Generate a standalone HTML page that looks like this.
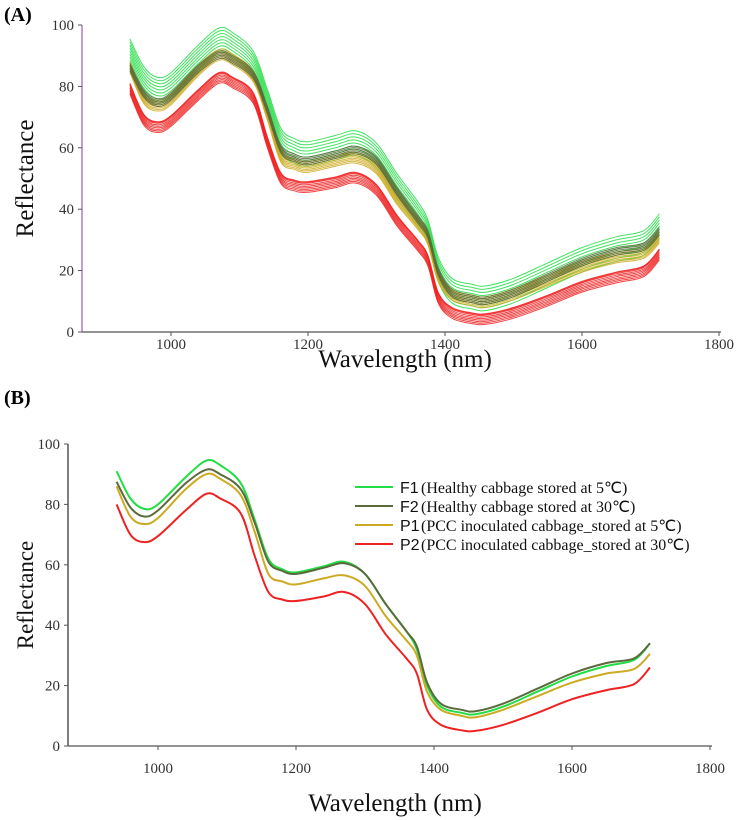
<!DOCTYPE html>
<html><head><meta charset="utf-8">
<style>
body{margin:0;background:#fff;}
svg{display:block;font-family:"Liberation Serif",serif;}
</style></head>
<body>
<svg id="chart" width="738" height="820" viewBox="0 0 738 820">
<text x="4" y="21" font-size="20" font-weight="bold">(A)</text>
<text x="4" y="404" font-size="20" font-weight="bold">(B)</text>
<g id="pa"></g>
<g id="pb"></g>
</svg>
<script>
const wavelengths=[940,960,980,1000,1040,1070,1090,1120,1140,1160,1180,1200,1240,1270,1300,1330,1360,1375,1390,1410,1440,1460,1500,1550,1600,1650,1690,1713];
const f1Values=[91,82,78.5,80,89,94.5,93,87,75,62,58.5,57.5,59.5,61,57,47,38,32,20,13,11,10.5,13,18,23,26.5,28.5,34];
const f2Values=[87.5,79,76,78,87,91.5,90,85,74,61,58,57,59,60.5,57,47,38,33,21,14,12,11.5,14,19,24,27.5,29,34];
const p1Values=[86,76,73.5,75.5,85,90,88.5,83,71,57,54.5,53.5,55.5,56.5,53,43,35,30,18,12,10,9.5,12,16.5,21,24,25.5,30.5];
const p2Values=[80,70,67.5,69.5,78,83.5,82,77,63,51,48.5,48,49.5,51,47,37,29,24,12,7,5.2,5,7,11,15.5,18.5,20.5,26];
const seriesNames=["F1","F2","P1","P2"];
const seriesLabels=["(Healthy cabbage stored at 5\u2103)","(Healthy cabbage stored at 30\u2103)","(PCC inoculated cabbage_stored at 5\u2103)","(PCC inoculated cabbage_stored at 30\u2103)"];
const seriesColors=["#22dd44","#5a6a3a","#ccaa22","#ee2222"];
const f1Offsets=[4.5,3.5,2.5,1.5,0.5,-0.5,-1.5,-2.5,-3.5];
const f2Offsets=[-2.5,-2,-1.5,-1,-0.5,0];
const p1Offsets=[1.5,1,0.5,0,-0.5,-1,-1.5,2];
const p2Offsets=[1,0.5,0,-0.5,-1,-1.5,-2,-2.5,0.8];
const xTicks=[1000,1200,1400,1600,1800];
const yTicks=[0,20,40,60,80,100];
const NS="http://www.w3.org/2000/svg";
function mk(tag,attrs,parent){const e=document.createElementNS(NS,tag);for(const k in attrs)e.setAttribute(k,attrs[k]);parent.appendChild(e);return e;}
function pathD(xs,ys,sx,sy){
 const p=xs.map((x,i)=>[sx(x),sy(ys[i])]);
 let d="M"+p[0][0].toFixed(1)+","+p[0][1].toFixed(1);
 for(let i=0;i<p.length-1;i++){
  const p0=p[i-1]||p[i],p1=p[i],p2=p[i+1],p3=p[i+2]||p2;
  const c1=[p1[0]+(p2[0]-p0[0])/6,p1[1]+(p2[1]-p0[1])/6];
  const c2=[p2[0]-(p3[0]-p1[0])/6,p2[1]-(p3[1]-p1[1])/6];
  d+="C"+c1.map(v=>v.toFixed(1))+" "+c2.map(v=>v.toFixed(1))+" "+p2[0].toFixed(1)+","+p2[1].toFixed(1);
 }
 return d;
}
function axes(g,x0,x1000,x1800,y0,y100,yAxisColor,tickOff,titleY,xTitleX,ytSize){
 const sx=w=>x1000+(w-1000)*(x1800-x1000)/800;
 const sy=v=>y0-(v)*(y0-y100)/100;
 const ya=mk("line",{x1:x0,y1:y100,x2:x0,y2:y0,stroke:yAxisColor,"stroke-width":1.5},g);
 
 
 const xa=mk("line",{x1:x0,y1:y0,x2:x1800+2,y2:y0,stroke:"#555","stroke-width":1.2},g);
 
 
 yTicks.forEach(v=>{
  mk("line",{x1:x0-4,y1:sy(v),x2:x0,y2:sy(v),stroke:"#555"},g);
  const t=mk("text",{x:x0-8,y:sy(v)+5,"text-anchor":"end","font-size":15,fill:"#333"},g);t.textContent=v;
  
  
 });
 xTicks.forEach(v=>{
  mk("line",{x1:sx(v),y1:y0,x2:sx(v),y2:y0+4,stroke:"#555"},g);
  const t=mk("text",{x:sx(v),y:y0+tickOff,"text-anchor":"middle","font-size":15,fill:"#333"},g);t.textContent=v;
  
  
 });
 const yt=mk("text",{x:0,y:0,transform:`translate(33,${(y0+y100)/2}) rotate(-90)`,"text-anchor":"middle","font-size":ytSize,fill:"#111"},g);
 yt.textContent="Reflectance";
 
 
 const xt=mk("text",{x:xTitleX,y:titleY,"text-anchor":"middle","font-size":25,fill:"#111"},g);
 xt.textContent="Wavelength (nm)";
 
 
 return [sx,sy];
}
const ga=document.getElementById("pa");
const [sxa,sya]=axes(ga,82,171,719,332,25,"#b07cc0",17,367,405,25);
const groups=[[f1Values,f1Offsets],[f2Values,f2Offsets],[p1Values,p1Offsets],[p2Values,p2Offsets]];
const orderA=[0,2,1,3];
orderA.forEach(gi=>{
 const [base,offs]=groups[gi];
 offs.forEach(o=>{
  const p=mk("path",{d:pathD(wavelengths,base.map(v=>v+o),sxa,sya),fill:"none",stroke:seriesColors[gi],"stroke-width":1,opacity:0.85},ga);
  
  
 });
});
const gb=document.getElementById("pb");
const [sxb,syb]=axes(gb,68,158,710,746,444,"#555",27,811,395,23);
groups.forEach(([base],gi)=>{
 const p=mk("path",{d:pathD(wavelengths,base,sxb,syb),fill:"none",stroke:seriesColors[gi],"stroke-width":2},gb);
 
 
});
seriesNames.forEach((n,i)=>{
 const y=487+i*19;
 const lg=mk("g",{},gb);
 
 
 mk("line",{x1:355,y1:y,x2:393,y2:y,stroke:seriesColors[i],"stroke-width":2},lg);
 const t1=mk("text",{x:400,y:y+6,"font-size":16,"font-family":"Liberation Sans, sans-serif",fill:"#111"},lg);t1.textContent=n;
 const t2=mk("text",{x:421,y:y+6,"font-size":16,fill:"#111"},lg);t2.textContent=seriesLabels[i];
});
</script>
</body></html>
